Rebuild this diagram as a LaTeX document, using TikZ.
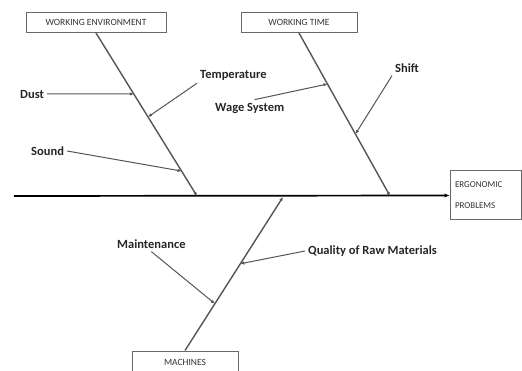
\documentclass[tikz,border=0pt]{standalone}
\usepackage{fontspec}
\setsansfont{Carlito}
\usetikzlibrary{arrows.meta,positioning,calc}
\definecolor{bonegray}{RGB}{85,85,85}
\definecolor{boxgray}{RGB}{105,105,105}

\begin{document}
\begin{tikzpicture}[x=1pt,y=-1pt,
  cause/.style={draw=boxgray,line width=1pt,font=\sffamily\fontsize{9.5}{12}\selectfont,text=black!80,inner sep=0pt,minimum height=20pt},
  sub/.style={font=\sffamily\bfseries\fontsize{12.5}{14}\selectfont,inner sep=3pt,text=black!85,anchor=west},
  bone/.style={draw=bonegray,line width=1.4pt,-{Latex[length=4pt,width=3.5pt]}},
  twig/.style={draw=bonegray,line width=1pt,-{Latex[length=4pt,width=3.5pt]}}]
\useasboundingbox (0,0) rectangle (522,371);
% Category boxes
\node[cause,minimum width=140pt] (env) at (96,22.5) {WORKING ENVIRONMENT};
\node[cause,minimum width=116pt] (wt) at (299,22.5) {WORKING TIME};
\node[cause,minimum width=106pt,minimum height=22pt] (mach) at (185,362) {MACHINES};
% Effect box
\node[cause,minimum width=71pt,minimum height=49pt,align=left,text width=61pt,
  font=\sffamily\fontsize{9}{21}\selectfont] (ergo) at (485.5,195.5) {ERGONOMIC\\PROBLEMS};
% Spine
\coordinate (tail) at (14,196);
\draw[line width=1.7pt,-{Latex[length=5pt,width=4.5pt]}] (tail) -- (ergo.west);
% Bones
\coordinate (envS) at (197,196);
\coordinate (wtS) at (390,196);
\coordinate (machS) at (283,197);
\draw[bone] (env.south) -- (envS);
\draw[bone] (wt.south) -- (wtS);
\draw[bone] (mach.north) -- (machS);
% Sub causes
\node[sub] (dust) at (17,94) {Dust};
\node[sub] (temp) at (197,75) {Temperature};
\node[sub] (sound) at (28,151) {Sound};
\node[sub] (wage) at (212,108) {Wage System};
\node[sub] (shift) at (392,68) {Shift};
\node[sub] (maint) at (114,244) {Maintenance};
\node[sub] (qual) at (305,251) {Quality of Raw Materials};
\draw[twig] (dust.east) -- ($(env.south)!0.374!(envS)$);
\draw[twig] (temp.south west) -- ($(env.south)!0.515!(envS)$);
\draw[twig] (sound.east) -- ($(env.south)!0.847!(envS)$);
\draw[twig] (wage.60) -- ($(wt.south)!0.313!(wtS)$);
\draw[twig] (shift.south west) -- ($(wt.south)!0.62!(wtS)$);
\draw[twig] (maint.south) -- ($(mach.north)!0.305!(machS)$);
\draw[twig] (qual.west) -- ($(mach.north)!0.565!(machS)$);
\end{tikzpicture}
\end{document}
